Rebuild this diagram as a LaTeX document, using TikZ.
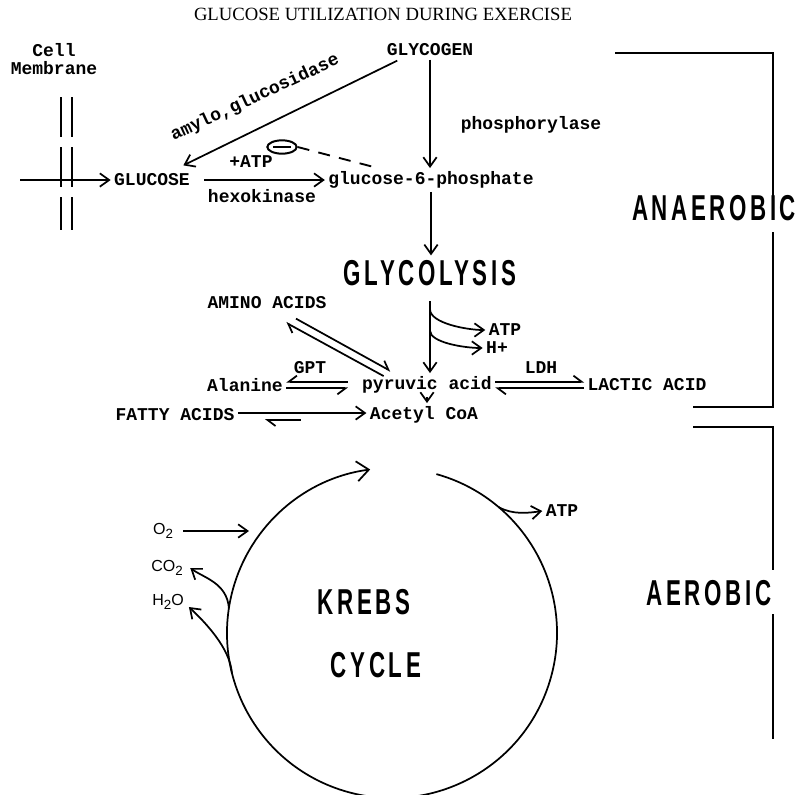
\documentclass[tikz,border=0pt]{standalone}
\usepackage{fontspec}
\usepackage{tikz}
\usetikzlibrary{arrows.meta,shapes.geometric}
\setmainfont{Liberation Serif}
\newfontfamily\labfont{Liberation Mono}
\newfontfamily\chemfont{Liberation Sans}
\newfontfamily\bigfont{Liberation Sans}[FakeStretch=0.62,LetterSpace=10]
\newcommand\chemsub[1]{\raisebox{-3pt}{\fontsize{10}{12}\selectfont #1}}

\begin{document}
\begin{tikzpicture}[x=0.75pt, y=-0.75pt, line width=1.3pt,
  lab/.style={font=\labfont\bfseries\fontsize{13.5}{15}\selectfont, inner sep=2pt},
  big/.style={font=\bigfont\bfseries\fontsize{27}{30}\selectfont, inner sep=3pt},
  chem/.style={font=\chemfont\fontsize{12}{14}\selectfont, inner sep=1pt},
  arr/.style={-{Straight Barb[length=7pt,width=10pt]}},
  hl/.style={-{Straight Barb[left,length=6pt,width=9pt]}},
  hr/.style={-{Straight Barb[right,length=6pt,width=9pt]}},
  edge/.style={line width=1.1pt}]
\useasboundingbox (0,0) rectangle (796,794);

% labels
\node[font=\fontsize{14}{16}\selectfont] (title) at (383,14) {GLUCOSE UTILIZATION DURING EXERCISE};
\node[lab] (cell) at (54,50) {Cell};
\node[lab] (membrane) at (54,68) {Membrane};
\node[lab] (glycogen) at (430,50) {GLYCOGEN};
\node[lab] (phos) at (531,125) {phosphorylase};
\node[lab, rotate=25] (amylo) at (255,98) {amylo,glucosidase};
\node[lab] (glucose) at (152,180) {GLUCOSE};
\node[lab] (g6p) at (431,180) {glucose-6-phosphate};
\node[lab] (hexo) at (262,196) {hexokinase};
\node[lab] (plusatp) at (251,162) {+ATP};
\node[draw, ellipse, line width=1.5pt, minimum width=22pt, minimum height=10pt,
  inner sep=0pt] (inhib) at (282,147) {\rule{13pt}{1.6pt}};
\node[big] (glycolysis) at (430,273) {GLYCOLYSIS};
\node[lab] (amino) at (267,303) {AMINO ACIDS};
\node[lab] (atpa) at (505,330) {ATP};
\node[lab] (hplus) at (497,348) {H+};
\node[lab] (gpt) at (310,368) {GPT};
\node[lab] (ldh) at (541,368) {LDH};
\node[lab] (alanine) at (245,385) {Alanine};
\node[lab] (pyruvic) at (427,385) {pyruvic acid};
\node[lab] (lactic) at (647,385) {LACTIC ACID};
\node[lab] (fatty) at (175,415) {FATTY ACIDS};
\node[lab] (acetyl) at (424,415) {Acetyl CoA};
\node[lab] (atpb) at (562,511) {ATP};
\node[chem] (o2) at (163,531) {O\chemsub{2}};
\node[chem] (co2) at (167,568) {CO\chemsub{2}};
\node[chem] (h2o) at (168,602) {H\chemsub{2}O};
\node[big] (krebs) at (364,602) {KREBS};
\node[big] (cycle) at (376,665) {CYCLE};
\node[big] (anaerobic) at (714,208) {ANAEROBIC};
\node[big] (aerobic) at (709,593) {AEROBIC};
\coordinate (kc) at (392,633);
\coordinate (inflow) at (20,180);
\coordinate (o2in) at (249,531);

% cell membrane
\foreach \x in {61,72}
  \draw[edge] (\x,97) -- (\x,137) (\x,147) -- (\x,187) (\x,197) -- (\x,230);

% glucose / glycogen
\draw[arr] (inflow) -- (glucose.west);
\draw[arr] ([xshift=8pt]glucose.east) -- (g6p.west);
\draw[arr] (glycogen.south) -- (glycogen.south |- g6p.north);
\draw[arr] ([shift={(14,1)}]glycogen.south west) -- ([shift={(-10,-5)}]glucose.north east);
\draw[line width=1.4pt, dash pattern=on 9pt off 7pt] (inhib.east) -- ([xshift=-40pt]g6p.north);
\draw[arr] (g6p.south) -- (g6p.south |- glycolysis.north);

% glycolysis to pyruvic acid
\draw[arr, shorten <=8pt] (glycolysis.south) -- (glycolysis.south |- pyruvic.north);
\draw[arr] ([yshift=-14pt]glycolysis.south) .. controls +(0,14) and +(-18,0) .. (atpa.west);
\draw[arr] ([yshift=-30pt]glycolysis.south) .. controls +(0,12) and +(-18,0) .. (hplus.west);
\draw[hl] ([shift={(29,6)}]amino.south) -- ([shift={(32,-2)}]pyruvic.north west);
\draw[hl] ([shift={(25,3)}]pyruvic.north west) -- ([shift={(19,10)}]amino.south);
\draw[hr, shorten <=8pt] ([yshift=2.5pt]pyruvic.west) -- ([yshift=2.5pt]alanine.east);
\draw[hr, shorten >=8pt] ([yshift=-2.5pt]alanine.east) -- ([yshift=-2.5pt]pyruvic.west);
\draw[hl] ([yshift=2.5pt]pyruvic.east) -- ([yshift=2.5pt]lactic.west);
\draw[hl] ([yshift=-2.5pt]lactic.west) -- ([yshift=-2.5pt]pyruvic.east);
\draw[arr] (pyruvic.south) -- (pyruvic.south |- acetyl.north);
\draw[arr] ([yshift=1.5pt]fatty.east) -- ([yshift=1.5pt]acetyl.west);
\draw[hl] ([shift={(63,5)}]fatty.east) -- ([shift={(27,5)}]fatty.east);

% krebs cycle
\draw[-{Straight Barb[length=9pt,width=15pt]}] ([shift={(-74.4:165)}]kc) arc[start angle=-74.4, end angle=262.4, radius=165];
\draw[arr] ([shift={(-49.8:165)}]kc) .. controls +(14,8) and +(-14,2) .. (atpb.west);
\draw[arr, shorten <=6pt] (o2.east) -- (o2in);
\draw[arr] ([shift={(-171.3:165)}]kc) .. controls +(-2,-25) and +(14,10) .. ([xshift=4pt]co2.east);
\draw[arr] ([shift={(166:165)}]kc) .. controls +(-2,-25) and +(16,15) .. ([shift={(3,5)}]h2o.east);

% anaerobic / aerobic brackets
\draw[edge] (615,53) -- (773,53) -- (773,197);
\draw[edge] (773,232) -- (773,407) -- (693,407);
\draw[edge] (693,427) -- (773,427) -- (773,570);
\draw[edge] (773,614) -- (773,739);
\end{tikzpicture}
\end{document}
